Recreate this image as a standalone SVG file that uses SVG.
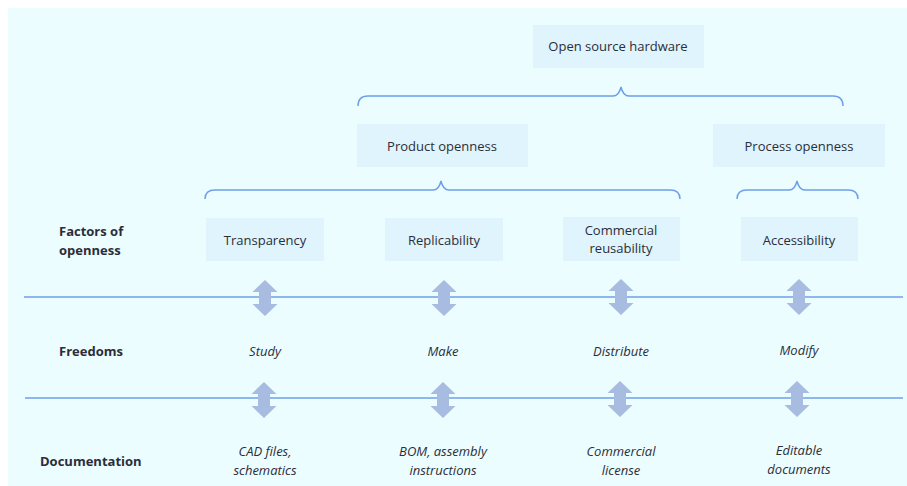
<svg xmlns="http://www.w3.org/2000/svg" width="907" height="486" viewBox="0 0 907 486">
<defs>
<style>
.box{fill:#dff4fc}
.t{font-family:"Open Sans","Liberation Sans",sans-serif;font-size:13px;fill:#2b2d3a;text-anchor:middle}
.i{font-style:italic}
.b{font-weight:bold;text-anchor:start}
.brace{fill:none;stroke:#6e9fe8;stroke-width:1.5}
.line{stroke:#6e9fe8;stroke-width:1.5}
.arr{fill:#a8bbe0}
</style>
<path id="dbl" d="M0,-18 L12.5,-6 L6,-6 L6,6 L12.5,6 L0,18 L-12.5,6 L-6,6 L-6,-6 L-12.5,-6 Z"/>
</defs>
<rect x="0" y="0" width="907" height="486" fill="#ffffff"/>
<rect x="8" y="8" width="899" height="478" fill="#ebfdfe"/>

<g id="osh"><rect class="box" x="533" y="25" width="171" height="43"/><text class="t" x="618" y="51">Open source hardware</text></g>
<g id="product"><rect class="box" x="357" y="124" width="171" height="43"/><text class="t" x="442" y="151">Product openness</text></g>
<g id="process"><rect class="box" x="713" y="124" width="172" height="43"/><text class="t" x="799" y="151">Process openness</text></g>

<g id="transparency"><rect class="box" x="206" y="218" width="118" height="43"/><text class="t" x="265" y="245">Transparency</text></g>
<g id="replicability"><rect class="box" x="385" y="218" width="118" height="43"/><text class="t" x="444" y="245">Replicability</text></g>
<g id="commercial"><rect class="box" x="563" y="217" width="117" height="44"/><text class="t" x="621" y="235">Commercial</text><text class="t" x="621" y="253">reusability</text></g>
<g id="accessibility"><rect class="box" x="741" y="217" width="117" height="44"/><text class="t" x="799" y="245">Accessibility</text></g>

<g id="labels">
<text class="t b" x="59" y="236">Factors of</text>
<text class="t b" x="59" y="255">openness</text>
<text class="t b" x="59" y="356">Freedoms</text>
<text class="t b" x="40" y="466">Documentation</text>
</g>

<g id="freedoms">
<text class="t i" x="265" y="356">Study</text>
<text class="t i" x="443" y="356">Make</text>
<text class="t i" x="621" y="356">Distribute</text>
<text class="t i" x="799" y="355">Modify</text>
</g>

<g id="docs">
<text class="t i" x="265" y="456">CAD files,</text>
<text class="t i" x="265" y="475">schematics</text>
<text class="t i" x="443" y="456">BOM, assembly</text>
<text class="t i" x="443" y="475">instructions</text>
<text class="t i" x="621" y="456">Commercial</text>
<text class="t i" x="621" y="475">license</text>
<text class="t i" x="799" y="455">Editable</text>
<text class="t i" x="799" y="474">documents</text>
</g>

<g id="connectors">
<path class="brace" d="M358,106 Q358,96 368,96 L613,96 Q619,96 621,87 Q623,96 629,96 L833,96 Q843,96 843,106"/>
<path class="brace" d="M205,199 Q205,190 215,190 L433,190 Q439,190 441,181 Q443,190 449,190 L670,190 Q680,190 680,199"/>
<path class="brace" d="M737,199 Q737,190 747,190 L789,190 Q795,190 797,181 Q799,190 805,190 L848,190 Q858,190 858,199"/>
<line class="line" x1="24" y1="297" x2="903" y2="297"/>
<line class="line" x1="25" y1="398" x2="903" y2="398"/>
<g class="arr">
<use href="#dbl" x="265" y="298"/>
<use href="#dbl" x="444" y="298"/>
<use href="#dbl" x="621" y="297"/>
<use href="#dbl" x="799" y="297"/>
<use href="#dbl" x="264" y="400"/>
<use href="#dbl" x="443" y="400"/>
<use href="#dbl" x="620" y="399"/>
<use href="#dbl" x="797" y="399"/>
</g>
</g>
</svg>
